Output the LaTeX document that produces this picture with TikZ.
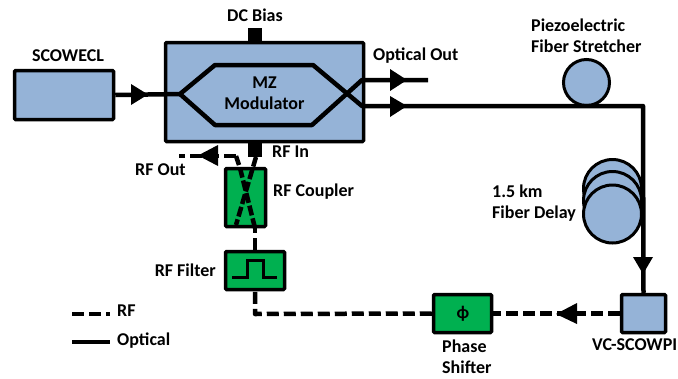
\documentclass[tikz,border=0pt]{standalone}
\usepackage{fontspec}
\setmainfont{Carlito}
\definecolor{optblue}{HTML}{95B3D7}
\definecolor{rfgreen}{HTML}{00B050}
\tikzset{
  x=1pt,y=-1pt,
  lbl/.style={font=\fontsize{18}{21}\selectfont\bfseries,inner sep=0pt,align=left,text=black},
  blockb/.style={draw=black,line width=3.5pt,rounded corners=1pt,fill=optblue,inner sep=0pt,minimum width=0pt},
  blockg/.style={draw=black,line width=3.5pt,rounded corners=1pt,fill=rfgreen,inner sep=0pt},
  pad/.style={fill=black,inner sep=0pt,minimum width=14pt,minimum height=14pt},
  coil/.style={draw=black,line width=3pt,fill=optblue,circle,inner sep=0pt},
  optical/.style={draw=black,line width=4.5pt,line join=round},
  rf/.style={draw=black,line width=4.5pt,dash pattern=on 12pt off 5pt,line join=round},
  rfx/.style={draw=black,line width=4.5pt,dash pattern=on 10pt off 3pt,line join=round},
}
\begin{document}
\begin{tikzpicture}
\useasboundingbox (0,0) rectangle (678,378);
% blocks
\node[blockb,minimum width=99pt,minimum height=49pt] (laser) at (64,95) {};
\node[blockb,minimum width=198pt,minimum height=99pt] (mz) at (264.5,92) {};
\node[pad,minimum height=13pt] (dc) at (255,34.5) {};
\node[pad] (rfin) at (255,150) {};
\node[blockg,minimum width=40pt,minimum height=58pt] (coupler) at (245.5,197.5) {};
\node[blockg,minimum width=59pt,minimum height=38pt] (filter) at (255,270.5) {};
\node[blockg,minimum width=58pt,minimum height=38pt] (phase) at (462.5,313.5) {};
\node[blockb,minimum width=44pt,minimum height=38pt] (pd) at (643.5,313.5) {};
\node[coil,minimum size=46pt] (piezo) at (586.5,82.5) {};
\node[coil,minimum size=58pt] (d1) at (612.5,188.5) {};
\node[coil,minimum size=58pt] (d2) at (612.5,200.5) {};
\node[coil,minimum size=58pt] (d3) at (612.5,214) {};
% named points
\coordinate (split) at (180,94);
\coordinate (ta) at (215,65);
\coordinate (tb) at (313,65);
\coordinate (ba) at (215,125);
\coordinate (bb) at (312,125);
\coordinate (c1) at (362,106);
\coordinate (c2) at (362,80);
\coordinate (outa) at (428,80);
\coordinate (corner) at (643,106);
\coordinate (rfoutend) at (179,156);
\coordinate (k1) at (236,156);
\coordinate (k2) at (240,168);
\coordinate (k3) at (255,228);
\coordinate (k4) at (256,157);
\coordinate (k5) at (236,225);
\coordinate (low) at (255,314);
\coordinate (lega) at (72,314);
\coordinate (legb) at (110,314);
\coordinate (legc) at (72,342);
\coordinate (legd) at (110,342);
\coordinate (p1) at (232,277);
\coordinate (p2) at (247,277);
\coordinate (p3) at (247,260);
\coordinate (p4) at (263,260);
\coordinate (p5) at (263,277);
\coordinate (p6) at (277,277);
% optical paths
\draw[optical] (laser.east) -- (split) -- (ta) -- (tb) -- (c1) -- (corner) -- (pd.north);
\draw[optical] (split) -- (ba) -- (bb) -- (c2) -- (outa);
\fill (131,84) -- (148,94.5) -- (131,105) -- cycle;
\fill (390,69) -- (407,80) -- (390,91) -- cycle;
\fill (390,96) -- (407,106) -- (390,117) -- cycle;
\fill (633,257) -- (653,257) -- (643,274) -- cycle;
% rf paths
\draw[rf] (pd.west) -- (phase.east);
\fill (556,314) -- (577,303) -- (577,324) -- cycle;
\draw[rf] (phase.west) -- (low) -- (filter.south);
\draw[rf] (filter.north) -- (coupler.south -| k3);
\draw[rfx] (k3) -- (k2) -- (k1);
\draw[rf] (k1) -- (rfoutend);
\fill (198,155.5) -- (218,145) -- (218,166) -- cycle;
\draw[rfx] (k4) -- (k5);
\draw[black,line width=3pt,line join=miter] (p1) -- (p2) -- (p3) -- (p4) -- (p5) -- (p6);
% legend
\draw[rf] (lega) -- (legb);
\draw[optical] (legc) -- (legd);
% labels
\node[lbl] (tlaser) at (68,56) {SCOWECL};
\node[lbl] (tdc) at (255,15) {DC Bias};
\node[lbl,align=center] (tmz) at (264.5,93) {MZ\\Modulator};
\node[lbl,anchor=west] (topt) at (373,56) {Optical Out};
\node[lbl,anchor=west] (trfin) at (272,152) {RF In};
\node[lbl,anchor=west] (trfout) at (135,170) {RF Out};
\node[lbl,anchor=west] (tcoup) at (273,192) {RF Coupler};
\node[lbl,anchor=east] (tfilt) at (216,270) {RF Filter};
\node[lbl,anchor=west] (tdelay) at (492,203.5) {1.5 km\\Fiber Delay};
\node[lbl,anchor=west] (tpiezo) at (531,36) {Piezoelectric\\Fiber Stretcher};
\node[lbl,anchor=west] (tpd) at (592,345) {VC-SCOWPI};
\node[lbl,anchor=west] (tshift) at (442,356.5) {Phase\\Shifter};
\node[lbl] (tphi) at (463,314) {ϕ};
\node[lbl,anchor=west] (trf) at (117,311) {RF};
\node[lbl,anchor=west] (toptl) at (117,341) {Optical};
\end{tikzpicture}
\end{document}
